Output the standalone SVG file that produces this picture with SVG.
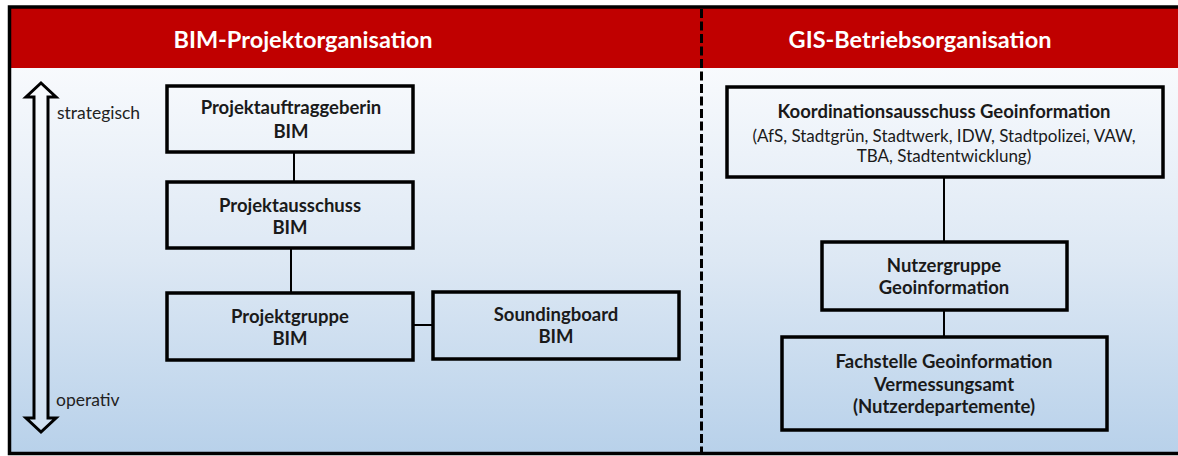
<svg xmlns="http://www.w3.org/2000/svg" width="1178" height="456" viewBox="0 0 1178 456">
  <defs>
    <linearGradient id="bodyFill" x1="0" y1="0" x2="0" y2="1">
      <stop offset="0" stop-color="#f8fafd"/>
      <stop offset="0.5" stop-color="#dde8f4"/>
      <stop offset="1" stop-color="#b8d1ea"/>
    </linearGradient>
    <style>
      .box { fill: none; stroke: #000; stroke-width: 3.5; }
      .link { stroke: #000; stroke-width: 2; fill: none; }
      .head { font-family: Lato, "Liberation Sans", sans-serif; font-weight: bold; font-size: 23.5px; fill: #fff; text-anchor: middle; }
      .lbl { font-family: Lato, "Liberation Sans", sans-serif; font-weight: bold; font-size: 18.5px; fill: #1a1a1a; text-anchor: middle; }
      .sub { font-family: Lato, "Liberation Sans", sans-serif; font-size: 17px; fill: #1a1a1a; text-anchor: middle; }
      .axis { font-family: Lato, "Liberation Sans", sans-serif; font-size: 17.5px; fill: #222; }
    </style>
  </defs>

  <!-- white page -->
  <rect x="0" y="0" width="1178" height="456" fill="#fff"/>

  <!-- panel body and header band -->
  <rect x="9" y="68" width="1175" height="385" fill="url(#bodyFill)"/>
  <rect x="9" y="8" width="1175" height="60" fill="#c00000"/>

  <!-- outer frame -->
  <path d="M1180 7 H9.5 V453.5 H1180" fill="none" stroke="#000" stroke-width="3.5"/>

  <!-- divider between the two organisations -->
  <line x1="701.5" y1="9" x2="701.5" y2="452" stroke="#000" stroke-width="3" stroke-dasharray="9 3.5"/>

  <!-- section titles -->
  <text class="head" x="303" y="48">BIM-Projektorganisation</text>
  <text class="head" x="920" y="48">GIS-Betriebsorganisation</text>

  <!-- strategic / operative axis -->
  <g id="axis">
    <path d="M41 83 L56 97 L48 97 L48 418 L56 418 L41 432 L26 418 L34 418 L34 97 L26 97 Z" fill="#fff" fill-opacity="0.3" stroke="#000" stroke-width="3" stroke-linejoin="miter"/>
    <text class="axis" x="57" y="119">strategisch</text>
    <text class="axis" x="56" y="406">operativ</text>
  </g>

  <!-- connectors -->
  <g id="connectors">
    <line class="link" x1="294" y1="152" x2="294" y2="182"/>
    <line class="link" x1="291" y1="248" x2="291" y2="293"/>
    <line class="link" x1="413" y1="325" x2="433" y2="325"/>
    <line class="link" x1="944" y1="177" x2="944" y2="242"/>
    <line class="link" x1="944" y1="310" x2="944" y2="337"/>
  </g>

  <!-- BIM project organisation -->
  <g id="projektauftraggeberin">
    <rect class="box" x="167" y="86" width="246" height="66"/>
    <text class="lbl" x="291" y="114">Projektauftraggeberin</text>
    <text class="lbl" x="291" y="138">BIM</text>
  </g>
  <g id="projektausschuss">
    <rect class="box" x="167" y="182" width="246" height="66"/>
    <text class="lbl" x="290" y="212">Projektausschuss</text>
    <text class="lbl" x="290" y="234">BIM</text>
  </g>
  <g id="projektgruppe">
    <rect class="box" x="167" y="293" width="246" height="67"/>
    <text class="lbl" x="290" y="323">Projektgruppe</text>
    <text class="lbl" x="290" y="345">BIM</text>
  </g>
  <g id="soundingboard">
    <rect class="box" x="433" y="292" width="246" height="67"/>
    <text class="lbl" x="556" y="321">Soundingboard</text>
    <text class="lbl" x="556" y="343">BIM</text>
  </g>

  <!-- GIS operating organisation -->
  <g id="koordinationsausschuss">
    <rect class="box" x="727" y="87" width="436" height="90"/>
    <text class="lbl" x="944" y="118">Koordinationsausschuss Geoinformation</text>
    <text class="sub" x="944" y="142">(AfS, Stadtgrün, Stadtwerk, IDW, Stadtpolizei, VAW,</text>
    <text class="sub" x="944" y="162">TBA, Stadtentwicklung)</text>
  </g>
  <g id="nutzergruppe">
    <rect class="box" x="822" y="242" width="245" height="68"/>
    <text class="lbl" x="944" y="272">Nutzergruppe</text>
    <text class="lbl" x="944" y="294">Geoinformation</text>
  </g>
  <g id="fachstelle">
    <rect class="box" x="782" y="337" width="325" height="93"/>
    <text class="lbl" x="944" y="368">Fachstelle Geoinformation</text>
    <text class="lbl" x="944" y="391">Vermessungsamt</text>
    <text class="lbl" x="944" y="413">(Nutzerdepartemente)</text>
  </g>
</svg>
